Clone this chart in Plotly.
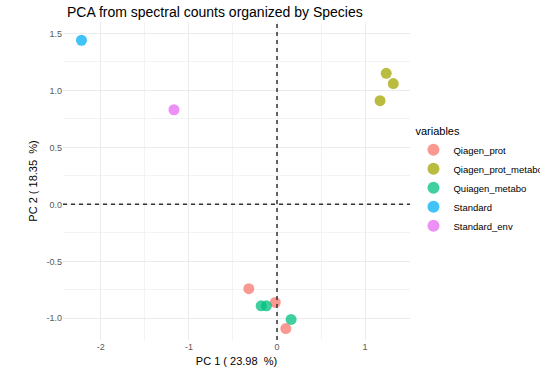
import plotly.graph_objects as go

# PCA scores per sample, grouped by extraction protocol
groups = ["Qiagen_prot", "Qiagen_prot_metabo", "Quiagen_metabo", "Standard", "Standard_env"]
colors = ["#F8766D", "#A3A500", "#00BF7D", "#00B0F6", "#E76BF3"]
pc1 = {
    "Qiagen_prot": [-0.32, -0.02, 0.10],
    "Qiagen_prot_metabo": [1.24, 1.32, 1.17],
    "Quiagen_metabo": [-0.18, -0.12, 0.16],
    "Standard": [-2.22],
    "Standard_env": [-1.17],
}
pc2 = {
    "Qiagen_prot": [-0.74, -0.86, -1.09],
    "Qiagen_prot_metabo": [1.15, 1.06, 0.91],
    "Quiagen_metabo": [-0.89, -0.89, -1.01],
    "Standard": [1.44],
    "Standard_env": [0.83],
}
x_ticks = [-2, -1, 0, 1]
y_ticks = [-1.0, -0.5, 0.0, 0.5, 1.0, 1.5]

fig = go.Figure()
for g, c in zip(groups, colors):
    fig.add_trace(go.Scatter(
        x=pc1[g], y=pc2[g], mode="markers", name=g,
        marker=dict(color=c, size=11, opacity=0.75, line=dict(width=0)),
    ))

# dashed reference lines through the origin
fig.add_hline(y=0, line=dict(color="#333333", width=1.5, dash="4px,4px"))
fig.add_vline(x=0, line=dict(color="#333333", width=1.5, dash="4px,4px"))

font = "Liberation Sans, Arial, sans-serif"
axis_common = dict(
    showgrid=True, gridcolor="#EBEBEB", gridwidth=1,
    zeroline=False, showline=False, ticks="",
    tickfont=dict(size=9, color="#595959", family=font),
    title_font=dict(size=11, color="#000000", family=font),
)
fig.update_xaxes(
    range=[-2.43, 1.51], tickvals=x_ticks, ticktext=[str(v) for v in x_ticks],
    title_text="PC 1 ( 23.98  %)", title_standoff=6,
    minor=dict(dtick=0.5, tick0=0, showgrid=True, gridcolor="#F3F3F3", gridwidth=0.6),
    **axis_common,
)
fig.update_yaxes(
    range=[-1.19, 1.60], tickvals=y_ticks, ticktext=[f"{v:.1f}" for v in y_ticks],
    title_text="PC 2 ( 18.35  %)", title_standoff=6,
    minor=dict(dtick=0.25, tick0=0, showgrid=True, gridcolor="#F3F3F3", gridwidth=0.6),
    **axis_common,
)
fig.update_layout(
    width=540, height=376,
    margin=dict(l=63, r=130, t=22, b=36, autoexpand=False),
    plot_bgcolor="white", paper_bgcolor="white",
    font=dict(family=font),
    title=dict(text="PCA from spectral counts organized by Species",
               x=67 / 540, xanchor="left", y=1 - 12 / 376, yanchor="middle",
               font=dict(size=14, color="#000000", family=font)),
    legend=dict(
        title=dict(text="variables", font=dict(size=11, color="#000000")),
        x=1.01, xanchor="left", y=0.5, yanchor="middle",
        font=dict(size=9.5, color="#000000"),
        itemsizing="constant", tracegroupgap=0,
    ),
)

fig.write_html("out.html")
